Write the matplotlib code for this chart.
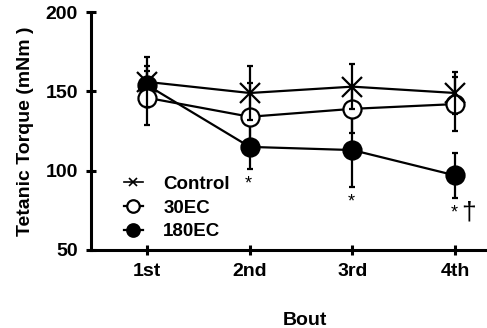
import numpy as np
import matplotlib
matplotlib.use("Agg")
import matplotlib.pyplot as plt
from matplotlib.lines import Line2D

plt.rcParams['font.family'] = ['Liberation Sans', 'DejaVu Sans']

bouts = ['1st', '2nd', '3rd', '4th']
control_mean = [156, 149, 153, 149]
control_sem = [16, 17, 14, 13]
ec30_mean = [146, 134, 139, 142]
ec30_sem = [17, 21, 15, 17]
ec180_mean = [154, 115, 113, 97]
ec180_sem = [12, 14, 23, 14]
sig_bouts = [2, 3, 4]      # * vs 1st bout (180EC)
dagger_bouts = [4]         # dagger

x = np.arange(1, len(bouts) + 1)

fig = plt.figure(figsize=(4.87, 3.28), dpi=100)
ax = fig.add_axes([0.187, 0.238, 0.813, 0.725])

common = dict(color='black', lw=1.6, elinewidth=1.6, capsize=2.5, capthick=1.6,
              markersize=13, markeredgewidth=1.6)
ax.errorbar(x, ec180_mean, yerr=ec180_sem, fmt='-o', mfc='black', mec='black',
            zorder=2, **common)
ax.errorbar(x, ec30_mean, yerr=ec30_sem, fmt='-o', mfc='white', mec='black',
            zorder=3, **common)
ax.errorbar(x, control_mean, yerr=control_sem, fmt='-x', mec='black',
            zorder=4, **dict(common, markersize=15))

for b in sig_bouts:
    i = b - 1
    ax.annotate('*', (x[i], ec180_mean[i] - ec180_sem[i]), xytext=(-1, -11),
                textcoords='offset points', ha='center', va='center',
                fontsize=13, fontweight='normal')
for b in dagger_bouts:
    i = b - 1
    ax.annotate('\u2020', (x[i], ec180_mean[i] - ec180_sem[i]), xytext=(10, -11),
                textcoords='offset points', ha='center', va='center',
                fontsize=19, fontweight='normal')

ax.set_xlim(0.455, 4.31)
ax.set_ylim(50, 200)
ax.set_yticks([50, 100, 150, 200])
ax.set_xticks(x, labels=bouts)
ax.spines['top'].set_visible(False)
ax.spines['right'].set_visible(False)
for s in ['left', 'bottom']:
    ax.spines[s].set_linewidth(2.2)
ax.tick_params(direction='inout', length=7, width=2.2, labelsize=14, pad=6)
for lab in ax.get_xticklabels() + ax.get_yticklabels():
    lab.set_fontweight('bold')

ax.set_ylabel('Tetanic Torque (mNm )', fontsize=14, fontweight='bold', labelpad=8)
ax.set_xlabel('Bout', fontsize=14, fontweight='bold')
ax.xaxis.set_label_coords(0.54, -0.26)

# legend handles similar to the original (small markers, short line stub)
handles = [
    Line2D([], [], color='black', lw=1.2, marker='x', markersize=6, mew=1.2),
    Line2D([], [], color='black', lw=1.6, marker='o', markersize=9, mfc='white', mew=1.6),
    Line2D([], [], color='black', lw=1.6, marker='o', markersize=9, mfc='black', mew=1.6),
]
labels = ['Control', '30EC', '180EC']
ax.legend(handles, labels, loc='lower left', bbox_to_anchor=(0.04, -0.03),
          frameon=False, prop={'weight': 'bold', 'size': 13.5},
          handlelength=1.0, handletextpad=1.1, labelspacing=0.35)

fig.savefig('out.png', dpi=100)
